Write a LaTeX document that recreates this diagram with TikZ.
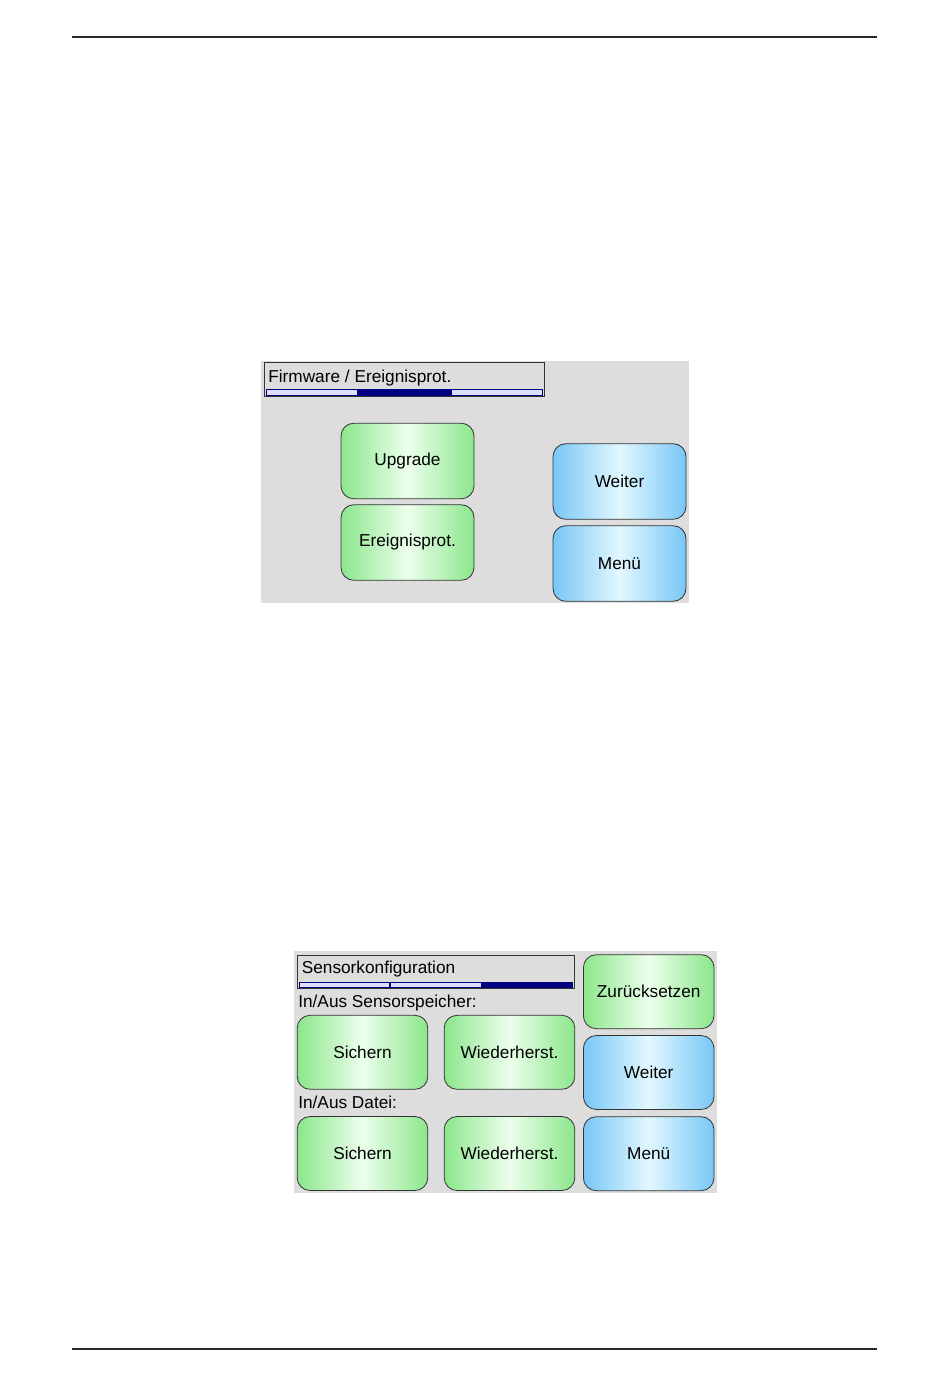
\documentclass[tikz,border=0pt]{standalone}
\usepackage{fontspec}
\setmainfont{Liberation Sans}
\definecolor{panelgray}{RGB}{221,221,221}
\definecolor{greenedge}{RGB}{140,230,140}
\definecolor{greenmid}{RGB}{236,255,236}
\definecolor{blueedge}{RGB}{120,198,246}
\definecolor{bluemid}{RGB}{226,248,255}
\definecolor{navy}{RGB}{0,0,128}
\definecolor{barlight}{RGB}{222,222,250}

\begin{document}
\begin{tikzpicture}[x=0.6263pt,y=-0.6263pt,font=\fontsize{10.8}{12}\selectfont]
\useasboundingbox (0,0) rectangle (950,1387);
% page rules
\draw[line width=1.1pt,black!85] (72,37) -- (877,37);
\draw[line width=1.1pt,black!85] (72,1349) -- (877,1349);

% first screen
\fill[panelgray] (261,361) rectangle (689,603);
\draw[black!80,line width=0.6pt] (264,362) rectangle (544,396);
\node[anchor=base west,inner sep=0pt] (head1) at (268,382) {Firmware / Ereignisprot.};
\begin{scope}[draw=navy,line width=0.5pt]
    \filldraw[fill=barlight] (266,389) rectangle (357,395);
    \filldraw[fill=navy] (357,389) rectangle (450,395);
    \filldraw[fill=barlight] (451,389) rectangle (542,395);
\end{scope}
\begin{scope}[every node/.style={rectangle,rounded corners=8pt,draw=black!80,line width=0.5pt,
              minimum width=83.3pt,minimum height=47.3pt,
              left color=greenedge,right color=greenedge,middle color=greenmid}]
    \node (Upg) at (407.5,461) {Upgrade};
    \node (Ereig) at (407.5,542.5) {Ereignisprot.};
\end{scope}
\begin{scope}[every node/.style={rectangle,rounded corners=8pt,draw=black!80,line width=0.5pt,
              minimum width=83.3pt,minimum height=47.3pt,
              left color=blueedge,right color=blueedge,middle color=bluemid}]
    \node (Weit1) at (619.5,481.5) {Weiter};
    \node (Menu1) at (619.5,563.5) {Menü};
\end{scope}

% second screen
\fill[panelgray] (294,951) rectangle (717,1193);
\draw[black!80,line width=0.6pt] (297,955) rectangle (574.5,988.5);
\node[anchor=base west,inner sep=0pt] (head2) at (301.5,973) {Sensorkonfiguration};
\begin{scope}[draw=navy,line width=0.5pt]
    \filldraw[fill=barlight] (299,982.5) rectangle (389.5,987.5);
    \filldraw[fill=barlight] (390,982.5) rectangle (481,987.5);
    \filldraw[fill=navy] (481.7,982.5) rectangle (572.5,987.5);
\end{scope}
\node[anchor=base west,inner sep=0pt] (lab1) at (298,1007) {In/Aus Sensorspeicher:};
\node[anchor=base west,inner sep=0pt] (lab2) at (298,1108) {In/Aus Datei:};
\begin{scope}[every node/.style={rectangle,rounded corners=8pt,draw=black!80,line width=0.5pt,
              minimum width=81.8pt,minimum height=46.3pt,
              left color=greenedge,right color=greenedge,middle color=greenmid}]
    \node (Sich1) at (362.5,1052.3) {Sichern};
    \node (Wied1) at (509.5,1052.3) {Wiederherst.};
    \node (Sich2) at (362.5,1153.5) {Sichern};
    \node (Wied2) at (509.5,1153.5) {Wiederherst.};
    \node (Zur) at (648.7,991.7) {Zurücksetzen};
\end{scope}
\begin{scope}[every node/.style={rectangle,rounded corners=8pt,draw=black!80,line width=0.5pt,
              minimum width=81.8pt,minimum height=46.3pt,
              left color=blueedge,right color=blueedge,middle color=bluemid}]
    \node (Weit2) at (648.7,1072.5) {Weiter};
    \node (Menu2) at (648.7,1153.7) {Menü};
\end{scope}
\end{tikzpicture}
\end{document}
